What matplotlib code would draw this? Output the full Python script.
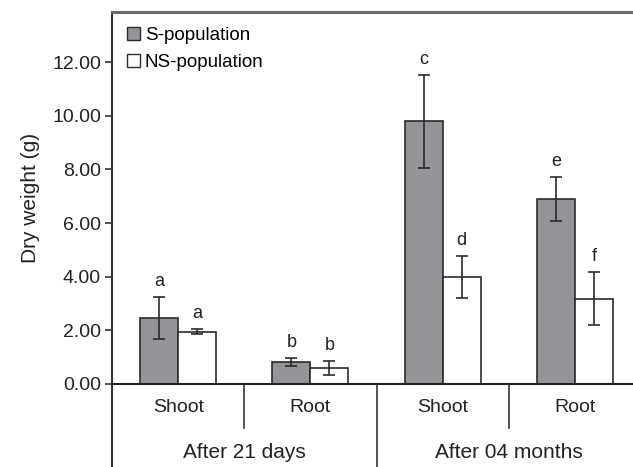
import matplotlib
matplotlib.use("Agg")
import matplotlib.pyplot as plt
from matplotlib.transforms import blended_transform_factory
from matplotlib.patches import Patch

plt.rcParams['font.family'] = ['Liberation Sans', 'DejaVu Sans']

categories = ["Shoot", "Root", "Shoot", "Root"]
groups = ["After 21 days", "After 04 months"]
s_values = [2.46, 0.82, 9.80, 6.91]
s_errors = [0.77, 0.14, 1.73, 0.82]
ns_values = [1.95, 0.61, 4.00, 3.18]
ns_errors = [0.09, 0.26, 0.78, 0.98]
s_letters = ["a", "b", "c", "e"]
ns_letters = ["a", "b", "d", "f"]
yticks = [0, 2, 4, 6, 8, 10, 12]

W, H = 633, 467
fig = plt.figure(figsize=(W/100, H/100), dpi=100)
left, right, top, bottom = 112, 633, 12, 384
ax = fig.add_axes([left/W, (H-bottom)/H, (right-left)/W, (bottom-top)/H])
axh = bottom - top

bw = 0.288
x = list(range(len(categories)))
xs = [i - bw/2 for i in x]
xn = [i + bw/2 for i in x]
ax.bar(xs, s_values, bw, color="#939598", edgecolor="#2b2b2b", linewidth=1.2, zorder=2)
ax.bar(xn, ns_values, bw, color="white", edgecolor="#2b2b2b", linewidth=1.2, zorder=2)
ax.errorbar(xs, s_values, yerr=s_errors, fmt="none", ecolor="#2b2b2b", elinewidth=1.2, capsize=4, capthick=1.2, zorder=3)
ax.errorbar(xn, ns_values, yerr=ns_errors, fmt="none", ecolor="#2b2b2b", elinewidth=1.2, capsize=4, capthick=1.2, zorder=3)

for xi, v, e, l in zip(xs, s_values, s_errors, s_letters):
    ax.annotate(l, (xi, v + e), xytext=(0, 5), textcoords="offset points", ha="center", va="bottom", fontsize=13, color="#222")
for xi, v, e, l in zip(xn, ns_values, ns_errors, ns_letters):
    ax.annotate(l, (xi, v + e), xytext=(0, 5), textcoords="offset points", ha="center", va="bottom", fontsize=13, color="#222")

ax.set_xlim(-0.5, 3.5 - 8/132)
ax.set_ylim(0, 13.87)
ax.set_yticks(yticks)
ax.set_yticklabels([f"{t:.2f}" for t in yticks], fontsize=14, color="#222")
ax.tick_params(axis="y", direction="out", length=5, width=1.2, color="#333", pad=3)
ax.set_xticks([])
ax.set_ylabel("Dry weight (g)", fontsize=15, color="#222", labelpad=9)

for s in ["right", "bottom"]:
    ax.spines[s].set_visible(False)
ax.spines["top"].set_color("#6a6a6a")
ax.spines["top"].set_linewidth(2.2)
ax.spines["left"].set_color("#333")
ax.spines["left"].set_linewidth(1.5)
ax.axhline(0, color="#222", linewidth=1.5, zorder=4, clip_on=False)

tr = blended_transform_factory(ax.transData, ax.transAxes)
ax.plot([-0.5, -0.5], [0, -85/axh], transform=tr, color="#333", linewidth=1.5, clip_on=False)
for xv in [0.5, 2.5]:
    ax.plot([xv, xv], [0, -44/axh], transform=tr, color="#333", linewidth=1.2, clip_on=False)
ax.plot([1.5, 1.5], [0, -85/axh], transform=tr, color="#333", linewidth=1.2, clip_on=False)

for i, c in enumerate(categories):
    ax.text(i, -24/axh, c, transform=tr, ha="center", va="center", fontsize=14, color="#222")
for gi, g in enumerate(groups):
    ax.text(0.5 + 2*gi, -69/axh, g, transform=tr, ha="center", va="center", fontsize=15, color="#222")

handles = [Patch(facecolor="#939598", edgecolor="#2b2b2b", linewidth=1.0),
           Patch(facecolor="white", edgecolor="#2b2b2b", linewidth=1.0)]
ax.legend(handles, ["S-population", "NS-population"], loc="upper left", frameon=False,
          fontsize=13.5, handlelength=0.7, handleheight=0.7, handletextpad=0.25,
          labelspacing=0.5, borderaxespad=0.4, bbox_to_anchor=(0.0, 1.0))

fig.savefig("out.png", dpi=100)
